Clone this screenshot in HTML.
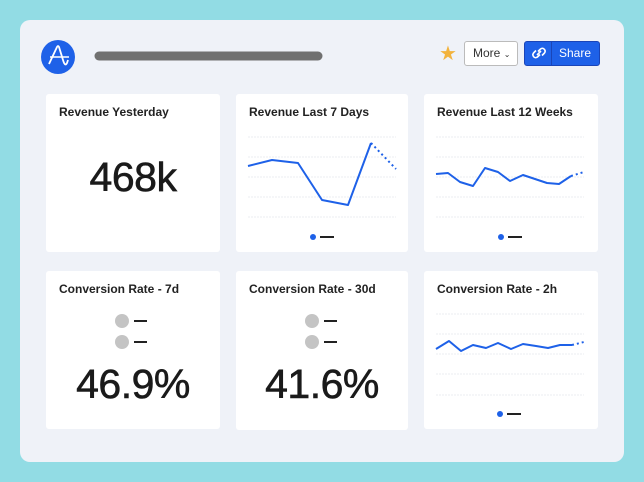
<!DOCTYPE html>
<html><head><meta charset="utf-8"><style>
*{margin:0;padding:0;box-sizing:border-box}
body{width:644px;height:482px;background:#92dce4;position:relative;overflow:hidden;font-family:"Liberation Sans",sans-serif}
.panel{position:absolute;left:20px;top:20px;width:604px;height:442px;background:#eff2f8;border-radius:10px}
.card{position:absolute;background:#fff;border-radius:3px}
.t{position:absolute;left:13px;top:11px;font-size:12px;font-weight:bold;color:#222}
.big{position:absolute;left:0;right:0;text-align:center;font-size:41px;color:#1a1a1a;letter-spacing:-0.5px;-webkit-text-stroke:0.6px #1a1a1a}
svg{position:absolute;left:0;top:0}
</style></head><body>
<div class="panel"></div>
<div style="position:absolute;left:41px;top:40px;width:34px;height:34px;border-radius:50%;background:#1e61e8"></div>
<svg width="644" height="482" style="z-index:1">
<path d="M49,64 L57,47 Q58,45 59,47 L63,60 Q65,67 67,63 L68,60" stroke="#fff" stroke-width="1.8" fill="none"/>
<line x1="50" y1="57" x2="69" y2="57" stroke="#fff" stroke-width="1.5"/>
<line x1="99" y1="56" x2="318" y2="56" stroke="#707070" stroke-width="9" stroke-linecap="round"/>
<text x="448" y="60" font-size="20" fill="#f2b33d" text-anchor="middle">★</text>
</svg>
<div style="position:absolute;left:464px;top:41px;width:54px;height:25px;border:1px solid #bbb;border-radius:3px;background:#fff;font-size:12px;color:#333;line-height:23px;padding-left:8px">More <span style="font-size:8px">⌄</span></div>
<div style="position:absolute;left:524px;top:41px;width:76px;height:25px;border:1px solid #1a45b8;border-radius:3px;background:#1e61e8;font-size:12px;color:#fff;line-height:23px">
<span style="position:absolute;left:0;top:0;width:27px;height:23px;border-right:1px solid #1a45b8"></span>
<svg width="27" height="23" style="left:0;top:0"><g stroke="#fff" stroke-width="1.6" fill="none"><path d="M12,13 L16,9"/><path d="M13,9.5 L15,7.5 Q17.5,5 19.5,7.5 Q21,9.5 19,11.5 L17,13.5"/><path d="M15,12.5 L13,14.5 Q10.5,17 8.5,14.5 Q7,12.5 9,10.5 L11,8.5"/></g></svg>
<span style="position:absolute;left:34px">Share</span></div>

<div class="card" style="left:46px;top:94px;width:174px;height:158px"><div class="t">Revenue Yesterday</div><div class="big" style="top:60px">468k</div></div>
<div class="card" style="left:236px;top:94px;width:172px;height:158px"><div class="t">Revenue Last 7 Days</div></div>
<div class="card" style="left:424px;top:94px;width:174px;height:158px"><div class="t">Revenue Last 12 Weeks</div></div>
<div class="card" style="left:46px;top:271px;width:174px;height:158px"><div class="t">Conversion Rate - 7d</div><div class="big" style="top:90px">46.9%</div></div>
<div class="card" style="left:236px;top:271px;width:172px;height:159px"><div class="t">Conversion Rate - 30d</div><div class="big" style="top:90px">41.6%</div></div>
<div class="card" style="left:424px;top:271px;width:174px;height:158px"><div class="t">Conversion Rate - 2h</div></div>

<svg width="644" height="482" style="z-index:2">
<g stroke="#ebedf0" stroke-width="1" stroke-dasharray="2,1">
<path d="M248,137H396M248,157H396M248,177H396M248,197H396M248,217H396"/>
<path d="M436,137H584M436,157H584M436,177H584M436,197H584M436,217H584"/>
<path d="M436,314H584M436,334H584M436,354H584M436,374H584M436,395H584"/>
</g>
<g stroke="#1e61e8" stroke-width="2" fill="none" stroke-linejoin="round">
<polyline points="248,166 272,160 298,163 322,200 348,205 371,143"/>
<polyline points="371,143 396,169" stroke-dasharray="2,3"/>
<polyline points="436,174 448,173 460,182 473,186 485,168 498,172 510,181 523,175 535,179 547,183 559,184 571,176"/>
<polyline points="571,176 584,172" stroke-dasharray="2,3"/>
<polyline points="436,349 449,341 461,351 473,345 486,348 498,343 511,349 523,344 536,346 548,348 560,345 572,345"/>
<polyline points="572,345 584,342" stroke-dasharray="2,3"/>
</g>
<g fill="#1e61e8"><circle cx="313" cy="237" r="3"/><circle cx="501" cy="237" r="3"/><circle cx="500" cy="414" r="3"/></g>
<g stroke="#222" stroke-width="2"><path d="M320,237H334M508,237H522M507,414H521M134,321H147M134,342H147M324,321H337M324,342H337"/></g>
<g fill="#c4c4c4"><circle cx="122" cy="321" r="7"/><circle cx="122" cy="342" r="7"/><circle cx="312" cy="321" r="7"/><circle cx="312" cy="342" r="7"/></g>
</svg>
</body></html>
